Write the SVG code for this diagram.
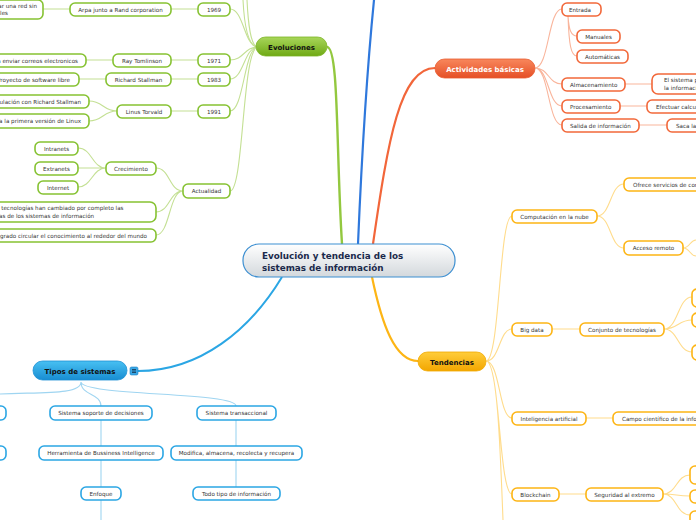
<svg xmlns="http://www.w3.org/2000/svg" width="696" height="520" viewBox="0 0 696 520">
<defs>
<linearGradient id="gC" x1="0" y1="0" x2="0" y2="1"><stop offset="0" stop-color="#ffffff"/><stop offset="1" stop-color="#d3d8dc"/></linearGradient>
<linearGradient id="gG" x1="0" y1="0" x2="0" y2="1"><stop offset="0" stop-color="#a8d65a"/><stop offset="1" stop-color="#6fa915"/></linearGradient>
<linearGradient id="gO" x1="0" y1="0" x2="0" y2="1"><stop offset="0" stop-color="#f8875c"/><stop offset="1" stop-color="#e54f26"/></linearGradient>
<linearGradient id="gY" x1="0" y1="0" x2="0" y2="1"><stop offset="0" stop-color="#ffcd3a"/><stop offset="1" stop-color="#f3a600"/></linearGradient>
<linearGradient id="gB" x1="0" y1="0" x2="0" y2="1"><stop offset="0" stop-color="#48c0f2"/><stop offset="1" stop-color="#188dd2"/></linearGradient>
</defs>
<style>
text{font-family:"DejaVu Sans","Liberation Sans",sans-serif;}
.t{font-size:5.6px;fill:#333;}
.tc{font-size:5.6px;fill:#333;text-anchor:middle;}
.m{font-size:7px;font-weight:bold;text-anchor:middle;}
.n rect{fill:#fff;stroke-width:1.6;}
.gn rect{stroke:#86c232;}
.on rect{stroke:#f2683a;}
.yn rect{stroke:#fdb515;}
.bn rect{stroke:#2ba6e4;}
.c path{fill:none;}
.cg{stroke:#c4e094;stroke-width:1.1;}
.co{stroke:#f9b59c;stroke-width:1.1;}
.cy{stroke:#ffdc8c;stroke-width:1.1;}
.cb{stroke:#9fd5f1;stroke-width:1.1;}
</style>

<g id="connectors" class="c">
<path d="M327,47 C339,47 336,150 342,244" stroke="#93c83f" stroke-width="2.4"/>
<path d="M358,244 C362,150 368,60 374,0" stroke="#2f78dc" stroke-width="2.2"/>
<path d="M373,244 C388,140 400,68 435,68" stroke="#f2663a" stroke-width="2.2"/>
<path d="M372,277 C382,325 395,361 418,361" stroke="#fdb515" stroke-width="2.2"/>
<path d="M282,277 C250,330 200,371 138,371" stroke="#2ba6e4" stroke-width="2"/>
<path class="cg" d="M258,47 C247,47 244,20 243,0" stroke-width="2.4"/>
<path class="cg" d="M258,47 C250,47 248,20 247,0" stroke-width="2"/>
<path class="cg" d="M258,47 C244,47 244,9 230,9"/>
<path class="cg" d="M258,47 C244,47 244,60 230,60"/>
<path class="cg" d="M258,47 C244,47 244,79 230,79"/>
<path class="cg" d="M258,47 C244,47 244,111 230,111"/>
<path class="cg" d="M258,47 C242,47 244,191 230,191"/>
<path class="cg" d="M198,9 H171 M70,9 H43 M198,60 H171 M113,60 H86 M198,79 H171 M106,79 H79 M198,111 H171"/>
<path class="cg" d="M117,111 C103,111 103,101 89,101 M117,111 C103,111 103,121 89,121"/>
<path class="cg" d="M183,191 C169,191 170,168 156,168 M183,191 C169,191 170,212 156,212 M183,191 C169,191 170,235 156,235"/>
<path class="cg" d="M106,168 C92,168 92,148 78,148 M106,168 H78 M106,168 C92,168 92,187 78,187"/>
<path class="co" d="M535,68 C549,68 548,9 562,9 M535,68 C549,68 548,84 562,84 M535,68 C549,68 548,106 562,106 M535,68 C549,68 548,125 562,125"/>
<path class="co" d="M568,16 C569,30 571,36 577,36 M568,16 C569,45 571,56 577,56"/>
<path class="co" d="M625,84 H652 M620,106 H647 M639,125 H667"/>
<path class="cy" d="M486,361 C500,361 499,216 512,216 M486,361 C500,361 499,329 512,329 M486,361 C500,361 499,418 512,418 M486,361 C500,361 499,494 512,494 M486,361 C497,361 500,440 503,520"/>
<path class="cy" d="M597,216 C611,216 610,184 624,184 M597,216 C611,216 610,248 624,248 M683,248 C690,248 690,240 696,240 M683,248 C690,248 690,256 696,256"/>
<path class="cy" d="M552,329 H580 M664,329 C678,329 678,297 692,297 M664,329 C678,329 678,320 692,320 M664,329 C678,329 678,352 692,352"/>
<path class="cy" d="M586,418 H613 M559,494 H586 M663,494 C677,494 676,475 690,475 M663,494 C677,494 676,496 690,496 M663,494 C677,494 676,515 690,515"/>
<path class="cb" d="M81,382 C81,395 40,392 0,394 M81,382 C81,396 101,393 101,406 M81,382 C82,396 236,392 236,406"/>
<path class="cb" d="M101,420 V446 M101,460 V487 M101,500 V520 M236,420 V446 M236,460 V487"/>
</g>

<g id="central">
<rect x="243" y="244" width="212" height="33" rx="16" fill="url(#gC)" stroke="#3d8fd1" stroke-width="1.2"/>
<text x="262" y="259" style="font-size:8.8px;font-weight:bold;fill:#1b2a4c">Evolución y tendencia de los</text>
<text x="262" y="271" style="font-size:8.8px;font-weight:bold;fill:#1b2a4c">sistemas de información</text>
</g>

<g id="evoluciones">
<rect x="256" y="37" width="71" height="19" rx="9.5" fill="url(#gG)" stroke="#7cb424" stroke-width="0.8"/>
<text class="m" x="291.5" y="50" fill="#111">Evoluciones</text>
</g>
<g id="actividades">
<rect x="435" y="59" width="100" height="19" rx="9.5" fill="url(#gO)" stroke="#e85a2e" stroke-width="0.8"/>
<text class="m" x="485" y="72" fill="#fff">Actividades básicas</text>
</g>
<g id="tendencias">
<rect x="418" y="352" width="68" height="19" rx="9.5" fill="url(#gY)" stroke="#f0a800" stroke-width="0.8"/>
<text class="m" x="452" y="365" fill="#111">Tendencias</text>
</g>
<g id="tipos">
<rect x="33" y="361" width="94" height="19" rx="9.5" fill="url(#gB)" stroke="#1d90d4" stroke-width="0.8"/>
<text class="m" x="80" y="374" fill="#111">Tipos de sistemas</text>
<rect x="130" y="367" width="8" height="8" rx="1.5" fill="#3aa7e6" stroke="#1a7fc4" stroke-width="0.6"/>
<path d="M132,369.5 H136 M132,371 H136 M132,372.5 H136" stroke="#123" stroke-width="0.7"/>
</g>

<g id="n1969" class="n gn"><rect x="198" y="3" width="32" height="13" rx="5"/><text class="tc" x="214" y="11.6">1969</text></g>
<g id="narpa" class="n gn"><rect x="70" y="3" width="101" height="13" rx="5"/><text class="tc" x="120.5" y="11.6">Arpa junto a Rand corporation</text></g>
<g id="nred" class="n gn"><rect x="-40" y="0" width="83" height="19" rx="5"/><text class="t" x="37" y="8" text-anchor="end">Crear una red sin</text><text class="t" x="8" y="15" text-anchor="end">nodales</text></g>
<g id="n1971" class="n gn"><rect x="198" y="54" width="32" height="13" rx="5"/><text class="tc" x="214" y="62.6">1971</text></g>
<g id="nray" class="n gn"><rect x="113" y="54" width="58" height="13" rx="5"/><text class="tc" x="142" y="62.6">Ray Tomlinson</text></g>
<g id="ncorreo" class="n gn"><rect x="-40" y="54" width="126" height="13" rx="5"/><text class="t" x="78" y="62.6" text-anchor="end">Sistema para enviar correos electronicos</text></g>
<g id="n1983" class="n gn"><rect x="198" y="73" width="32" height="13" rx="5"/><text class="tc" x="214" y="81.6">1983</text></g>
<g id="nrichard" class="n gn"><rect x="106" y="73" width="65" height="13" rx="5"/><text class="tc" x="138.5" y="81.6">Richard Stallman</text></g>
<g id="nproyecto" class="n gn"><rect x="-40" y="73" width="119" height="13" rx="5"/><text class="t" x="70" y="81.6" text-anchor="end">Proyecto de software libre</text></g>
<g id="n1991" class="n gn"><rect x="198" y="105" width="32" height="13" rx="5"/><text class="tc" x="214" y="113.6">1991</text></g>
<g id="nlinus" class="n gn"><rect x="117" y="105" width="54" height="13" rx="5"/><text class="tc" x="144" y="113.6">Linus Torvald</text></g>
<g id="nvinc" class="n gn"><rect x="-40" y="95" width="129" height="13" rx="5"/><text class="t" x="81" y="103.6" text-anchor="end">Vinculación con Richard Stallman</text></g>
<g id="nlinux" class="n gn"><rect x="-40" y="114" width="129" height="14" rx="5"/><text class="t" x="81" y="123" text-anchor="end">Crea la primera versión de Linux</text></g>
<g id="nactualidad" class="n gn"><rect x="183" y="184" width="47" height="14" rx="5"/><text class="tc" x="206.5" y="193">Actualidad</text></g>
<g id="ncrec" class="n gn"><rect x="106" y="162" width="50" height="13" rx="5"/><text class="tc" x="131" y="170.6">Crecimiento</text></g>
<g id="nintra" class="n gn"><rect x="35" y="142" width="43" height="13" rx="5"/><text class="tc" x="56.5" y="150.6">Intranets</text></g>
<g id="nextra" class="n gn"><rect x="35" y="162" width="43" height="13" rx="5"/><text class="tc" x="56.5" y="170.6">Extranets</text></g>
<g id="ninternet" class="n gn"><rect x="38" y="181" width="40" height="13" rx="5"/><text class="tc" x="58" y="189.6">Internet</text></g>
<g id="ntecno" class="n gn"><rect x="-40" y="202" width="196" height="20" rx="6"/><text class="t" x="-10" y="210">Las tecnologías han cambiado por completo las</text><text class="t" x="-10" y="218">áreas de los sistemas de información</text></g>
<g id="nlogrado" class="n gn"><rect x="-40" y="229" width="196" height="13" rx="5"/><text class="t" x="147" y="237.6" text-anchor="end">Ha logrado circular el conocimiento al rededor del mundo</text></g>

<g id="nentrada" class="n on"><rect x="562" y="3" width="39" height="13" rx="5"/><text class="t" x="569" y="11.6">Entrada</text></g>
<g id="nmanuales" class="n on"><rect x="577" y="30" width="43" height="13" rx="5"/><text class="tc" x="598.5" y="38.6">Manuales</text></g>
<g id="nauto" class="n on"><rect x="577" y="50" width="51" height="13" rx="5"/><text class="tc" x="602.5" y="58.6">Automáticas</text></g>
<g id="nalm" class="n on"><rect x="562" y="78" width="63" height="13" rx="5"/><text class="t" x="570" y="86.6">Almacenamiento</text></g>
<g id="nalmc" class="n on"><rect x="652" y="74" width="70" height="20" rx="6"/><text class="t" x="664" y="82">El sistema permite</text><text class="t" x="664" y="90">la información</text></g>
<g id="nproc" class="n on"><rect x="562" y="100" width="58" height="13" rx="5"/><text class="t" x="570" y="108.6">Procesamiento</text></g>
<g id="nprocc" class="n on"><rect x="647" y="100" width="70" height="13" rx="5"/><text class="t" x="656" y="108.6">Efectuar calculos</text></g>
<g id="nsal" class="n on"><rect x="562" y="119" width="77" height="13" rx="5"/><text class="t" x="570" y="127.6">Salida de información</text></g>
<g id="nsalc" class="n on"><rect x="667" y="119" width="50" height="13" rx="5"/><text class="t" x="676" y="127.6">Saca la</text></g>

<g id="ncomp" class="n yn"><rect x="512" y="210" width="85" height="13" rx="5"/><text class="tc" x="554.5" y="218.6">Computación en la nube</text></g>
<g id="nofrece" class="n yn"><rect x="624" y="178" width="90" height="13" rx="5"/><text class="t" x="633" y="186.6">Ofrece servicios de computo</text></g>
<g id="nacceso" class="n yn"><rect x="624" y="241" width="59" height="14" rx="5"/><text class="tc" x="653.5" y="250">Acceso remoto</text></g>
<g id="nbig" class="n yn"><rect x="512" y="323" width="40" height="13" rx="5"/><text class="tc" x="532" y="331.6">Big data</text></g>
<g id="nconj" class="n yn"><rect x="580" y="323" width="84" height="13" rx="5"/><text class="tc" x="622" y="331.6">Conjunto de tecnologías</text></g>
<g id="nbc1" class="n yn"><rect x="692" y="289" width="20" height="18" rx="5"/></g>
<g id="nbc2" class="n yn"><rect x="692" y="313" width="20" height="14" rx="5"/></g>
<g id="nbc3" class="n yn"><rect x="692" y="345" width="20" height="15" rx="5"/></g>
<g id="nia" class="n yn"><rect x="512" y="412" width="74" height="13" rx="5"/><text class="tc" x="549" y="420.6">Inteligencia artificial</text></g>
<g id="ncampo" class="n yn"><rect x="613" y="412" width="110" height="13" rx="5"/><text class="t" x="622" y="420.6">Campo científico de la informática</text></g>
<g id="nblock" class="n yn"><rect x="512" y="488" width="47" height="13" rx="5"/><text class="tc" x="535.5" y="496.6">Blockchain</text></g>
<g id="nseg" class="n yn"><rect x="586" y="488" width="77" height="13" rx="5"/><text class="tc" x="624.5" y="496.6">Seguridad al extremo</text></g>
<g id="nsb1" class="n yn"><rect x="690" y="466" width="20" height="18" rx="5"/></g>
<g id="nsb2" class="n yn"><rect x="690" y="490" width="20" height="13" rx="5"/></g>
<g id="nsb3" class="n yn"><rect x="690" y="511" width="20" height="14" rx="5"/></g>

<g id="nleft1" class="n bn"><rect x="-30" y="406" width="36" height="14" rx="5"/></g>
<g id="nleft2" class="n bn"><rect x="-30" y="446" width="36" height="14" rx="5"/></g>
<g id="nsop" class="n bn"><rect x="50" y="406" width="102" height="14" rx="5"/><text class="tc" x="101" y="415">Sistema soporte de decisiones</text></g>
<g id="ntrans" class="n bn"><rect x="197" y="406" width="79" height="14" rx="5"/><text class="tc" x="236.5" y="415">Sistema transaccional</text></g>
<g id="nherr" class="n bn"><rect x="39" y="446" width="124" height="14" rx="5"/><text class="tc" x="101" y="455">Herramienta de Bussiness Intelligence</text></g>
<g id="nmod" class="n bn"><rect x="171" y="446" width="131" height="14" rx="5"/><text class="tc" x="236.5" y="455">Modifica, almacena, recolecta y recupera</text></g>
<g id="nenf" class="n bn"><rect x="81" y="487" width="40" height="13" rx="5"/><text class="tc" x="101" y="495.6">Enfoque</text></g>
<g id="ntodo" class="n bn"><rect x="193" y="487" width="87" height="13" rx="5"/><text class="tc" x="236.5" y="495.6">Todo tipo de información</text></g>
</svg>
